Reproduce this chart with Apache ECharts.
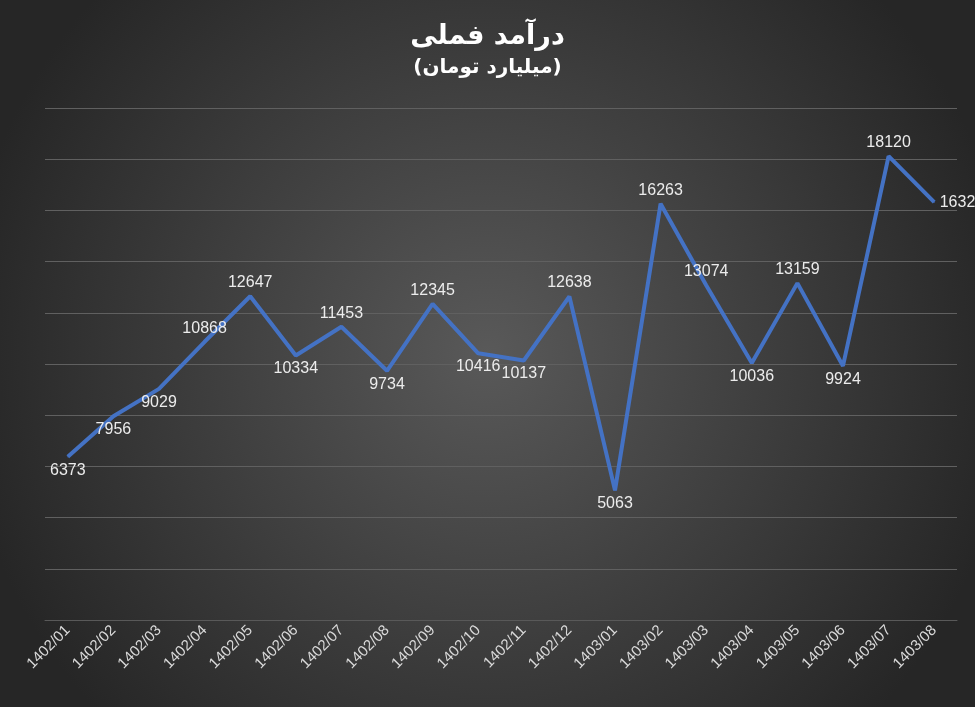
<!DOCTYPE html>
<html><head><meta charset="utf-8">
<script src="https://cdn.jsdelivr.net/npm/echarts@6/dist/echarts.min.js"></script>
<style>html,body{margin:0;padding:0;}#c{width:975px;height:707px;}</style>
</head><body><div id="c"></div>
<script>
const categories = ['1402/01','1402/02','1402/03','1402/04','1402/05','1402/06','1402/07','1402/08','1402/09','1402/10','1402/11','1402/12','1403/01','1403/02','1403/03','1403/04','1403/05','1403/06','1403/07','1403/08'];
const revenue = [6373,7956,9029,10868,12647,10334,11453,9734,12345,10416,10137,12638,5063,16263,13074,10036,13159,9924,18120,16321];
const labelPos = ['bottom','bottom','bottom','top','top','bottom','top','bottom','top','bottom','bottom','top','bottom','top','top','bottom','top','bottom','top','right'];
const chart = echarts.init(document.getElementById('c'));
chart.setOption({
  backgroundColor: {type:'radial', x:0.5, y:0.5, r:0.75, colorStops:[{offset:0,color:'#595959'},{offset:1,color:'#262626'}]},
  title: {text:'درآمد فملی', subtext:'(میلیارد تومان)', left:'center', top:18,
    textStyle:{color:'#ffffff', fontSize:27, fontWeight:'bold', fontFamily:'DejaVu Sans'},
    subtextStyle:{color:'#ffffff', fontSize:20, fontWeight:'bold', fontFamily:'DejaVu Sans'}, itemGap:8},
  grid: {left:45, right:18, top:108, bottom:87},
  xAxis: {type:'category', data:categories, boundaryGap:true,
    axisLine:{lineStyle:{color:'#595959'}}, axisTick:{show:false},
    axisLabel:{rotate:45, color:'#d9d9d9', fontSize:15, interval:0, margin:8}},
  yAxis: {type:'value', min:0, max:20000, interval:2000, axisLabel:{show:false},
    axisLine:{show:false}, axisTick:{show:false},
    splitLine:{lineStyle:{color:'#606060', width:1}}},
  series: [{type:'line', data: revenue.map((v,i)=>({value:v, label:{position:labelPos[i]}})),
    symbol:'circle', symbolSize:1, showSymbol:true, showAllSymbol:true,
    lineStyle:{color:'#4472C4', width:4}, itemStyle:{color:'#4472C4'},
    label:{show:true, color:'#ececec', fontSize:16, distance:5}}]
});
</script></body></html>
